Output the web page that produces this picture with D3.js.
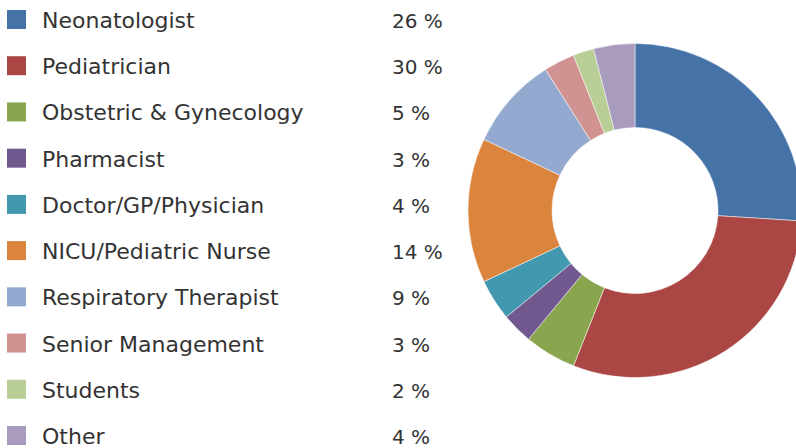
<!DOCTYPE html>
<html>
<head>
<meta charset="utf-8">
<script src="https://cdn.jsdelivr.net/npm/d3@7"></script>
<style>
  html, body { margin: 0; padding: 0; background: #fff; }
  svg { display: block; }
</style>
</head>
<body>
<svg id="chart" width="796" height="448"></svg>
<script>
// data
const categories = [
  "Neonatologist",
  "Pediatrician",
  "Obstetric & Gynecology",
  "Pharmacist",
  "Doctor/GP/Physician",
  "NICU/Pediatric Nurse",
  "Respiratory Therapist",
  "Senior Management",
  "Students",
  "Other",
];
const shares = [26, 30, 5, 3, 4, 14, 9, 3, 2, 4];
const colors = [
  "#4572A7", "#AA4643", "#89A54E", "#71588F", "#4198AF",
  "#DB843D", "#93A9CF", "#D19392", "#B9CD96", "#A99BBD",
];

const data = categories.map((name, i) => ({ name, value: shares[i] }));

const svg = d3.select("#chart");

// donut
const cx = 635, cy = 210.5;
const outerR = 167, innerR = 83;

const pie = d3.pie().value((d) => d.value).sort(null);
const arc = d3.arc().innerRadius(innerR).outerRadius(outerR);

const color = d3.scaleOrdinal().domain(categories).range(colors);

svg.append("g")
  .attr("transform", `translate(${cx},${cy})`)
  .selectAll("path")
  .data(pie(data))
  .join("path")
  .attr("d", arc)
  .attr("fill", (d) => color(d.data.name))
  .attr("stroke", "#fff")
  .attr("stroke-width", 0.5);

// legend
const rowY = d3.scalePoint().domain(categories).range([19.5, 435.5]);

const legend = svg.append("g")
  .selectAll("g")
  .data(data)
  .join("g")
  .attr("transform", (d) => `translate(0,${rowY(d.name)})`);

legend.append("rect")
  .attr("x", 7)
  .attr("y", -9.5)
  .attr("width", 19)
  .attr("height", 19)
  .attr("fill", (d) => color(d.name));

legend.append("text")
  .attr("x", 42)
  .attr("y", 8.5)
  .attr("fill", "#333")
  .style("font-family", "'DejaVu Sans', sans-serif")
  .style("font-size", "22px")
  .text((d) => d.name);

legend.append("text")
  .attr("x", 392)
  .attr("y", 8.5)
  .attr("fill", "#333")
  .style("font-family", "'DejaVu Sans', sans-serif")
  .style("font-size", "20px")
  .text((d) => `${d.value} %`);
</script>
</body>
</html>
